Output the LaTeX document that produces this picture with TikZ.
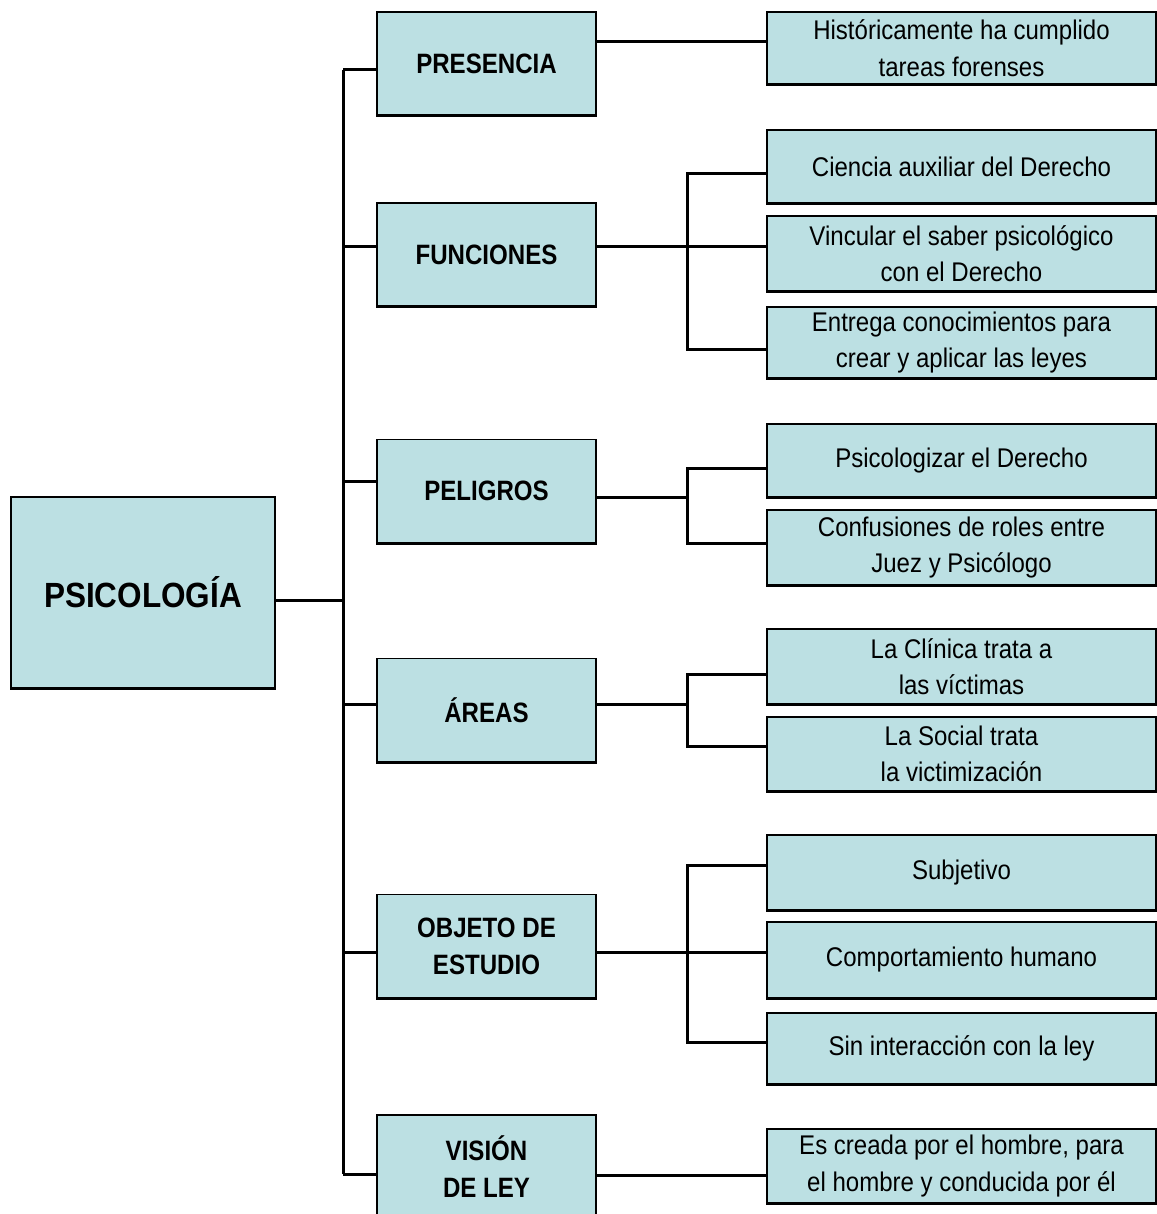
\documentclass[tikz,border=0pt]{standalone}
\usepackage{fontspec}
\setmainfont{Liberation Sans}
\newfontfamily\leaffont[FakeStretch=0.89]{Liberation Sans}
\newfontfamily\midfont[FakeStretch=0.86]{Liberation Sans}
\newfontfamily\rootfont[FakeStretch=0.9]{Liberation Sans}
\definecolor{boxfill}{RGB}{188,224,227}
\tikzset{
  box/.style={draw=black, line width=1.2pt, fill=boxfill, inner sep=0pt, align=center},
  leaf/.style={box, minimum width=389pt, font=\leaffont\fontsize{27}{36.5}\selectfont},
  mid/.style={box, minimum width=219pt, minimum height=103pt, font=\midfont\bfseries\fontsize{28}{37}\selectfont},
  conn/.style={line width=3pt},
  bottomline/.style={line width=3.2pt}
}
\begin{document}
\begin{tikzpicture}[x=1pt,y=-1pt]
\useasboundingbox[fill=white] (0,0) rectangle (1156,1214);
% root
\node[box, minimum width=264pt, minimum height=191pt, font=\rootfont\bfseries\fontsize{35}{40}\selectfont] (psi) at (143,592.5) {PSICOLOGÍA};
% middle boxes
\node[mid] (pres) at (486.5,63.5) {PRESENCIA};
\node[mid] (func) at (486.5,254.5) {FUNCIONES};
\node[mid] (pel) at (486.5,491) {PELIGROS};
\node[mid] (are) at (486.5,710) {ÁREAS};
\node[mid] (obj) at (486.5,946) {OBJETO DE\\ESTUDIO};
\node[mid, minimum height=104pt] (vis) at (486.5,1167) {VISIÓN\\DE LEY};
% leaves
\node[leaf, minimum height=72pt] (l1) at (961.5,48) {Históricamente ha cumplido\\tareas forenses};
\node[leaf, minimum height=73pt] (l2) at (961.5,166.5) {Ciencia auxiliar del Derecho};
\node[leaf, minimum height=75pt] (l3) at (961.5,253.5) {Vincular el saber psicológico\\con el Derecho};
\node[leaf, minimum height=71pt] (l4) at (961.5,342.5) {Entrega conocimientos para\\crear y aplicar las leyes};
\node[leaf, minimum height=73pt] (l5) at (961.5,460.5) {Psicologizar el Derecho};
\node[leaf, minimum height=75pt] (l6) at (961.5,547.5) {Confusiones de roles entre\\Juez y Psicólogo};
\node[leaf, minimum height=75pt] (l7) at (961.5,666.5) {La Clínica trata a\\las víctimas};
\node[leaf, minimum height=74pt] (l8) at (961.5,754) {La Social trata\\la victimización};
\node[leaf, minimum height=75pt] (l9) at (961.5,872.5) {Subjetivo};
\node[leaf, minimum height=76pt] (l10) at (961.5,960) {Comportamiento humano};
\node[leaf, minimum height=71pt] (l11) at (961.5,1048.5) {Sin interacción con la ley};
\node[leaf, minimum height=74pt] (l12) at (961.5,1166) {Es creada por el hombre, para\\el hombre y conducida por él};
% thick bottom edges
\foreach \n in {psi,pres,func,pel,are,obj,l1,l2,l3,l4,l5,l6,l7,l8,l9,l10,l11,l12}{
  \draw[bottomline] (\n.south west) -- (\n.south east);
}
% trunk
\coordinate (t0) at (343,600);
\coordinate (tA) at (343,70);
\coordinate (tB) at (343,247);
\coordinate (tC) at (343,481);
\coordinate (tD) at (343,704);
\coordinate (tE) at (343,952);
\coordinate (tF) at (343,1174);
\draw[conn] (t0 -| psi.east) -- (t0);
\draw[conn] (tA) -- (tF);
\draw[conn] (tA) -- (tA -| pres.west);
\draw[conn] (tB) -- (tB -| func.west);
\draw[conn] (tC) -- (tC -| pel.west);
\draw[conn] (tD) -- (tD -| are.west);
\draw[conn] (tE) -- (tE -| obj.west);
\draw[conn] (tF) -- (tF -| vis.west);
% right side
\coordinate (rA) at (0,42);
\draw[conn] (rA -| pres.east) -- (rA -| l1.west);
% funciones
\coordinate (bB1) at (687,174);
\coordinate (bB2) at (687,247);
\coordinate (bB3) at (687,349);
\draw[conn] (bB2 -| func.east) -- (bB2 -| l3.west);
\draw[conn] (bB1 -| l2.west) -- (bB1) -- (bB3) -- (bB3 -| l4.west);
% peligros
\coordinate (bC0) at (687,497);
\coordinate (bC1) at (687,468);
\coordinate (bC2) at (687,543);
\draw[conn] (bC0 -| pel.east) -- (bC0);
\draw[conn] (bC1 -| l5.west) -- (bC1) -- (bC2) -- (bC2 -| l6.west);
% areas
\coordinate (bD0) at (687,704);
\coordinate (bD1) at (687,674);
\coordinate (bD2) at (687,746);
\draw[conn] (bD0 -| are.east) -- (bD0);
\draw[conn] (bD1 -| l7.west) -- (bD1) -- (bD2) -- (bD2 -| l8.west);
% objeto
\coordinate (bE0) at (687,952);
\coordinate (bE1) at (687,865);
\coordinate (bE2) at (687,1042);
\draw[conn] (bE0 -| obj.east) -- (bE0 -| l10.west);
\draw[conn] (bE1 -| l9.west) -- (bE1) -- (bE2) -- (bE2 -| l11.west);
% vision
\coordinate (rF) at (0,1175);
\draw[conn] (rF -| vis.east) -- (rF -| l12.west);
\end{tikzpicture}
\end{document}
